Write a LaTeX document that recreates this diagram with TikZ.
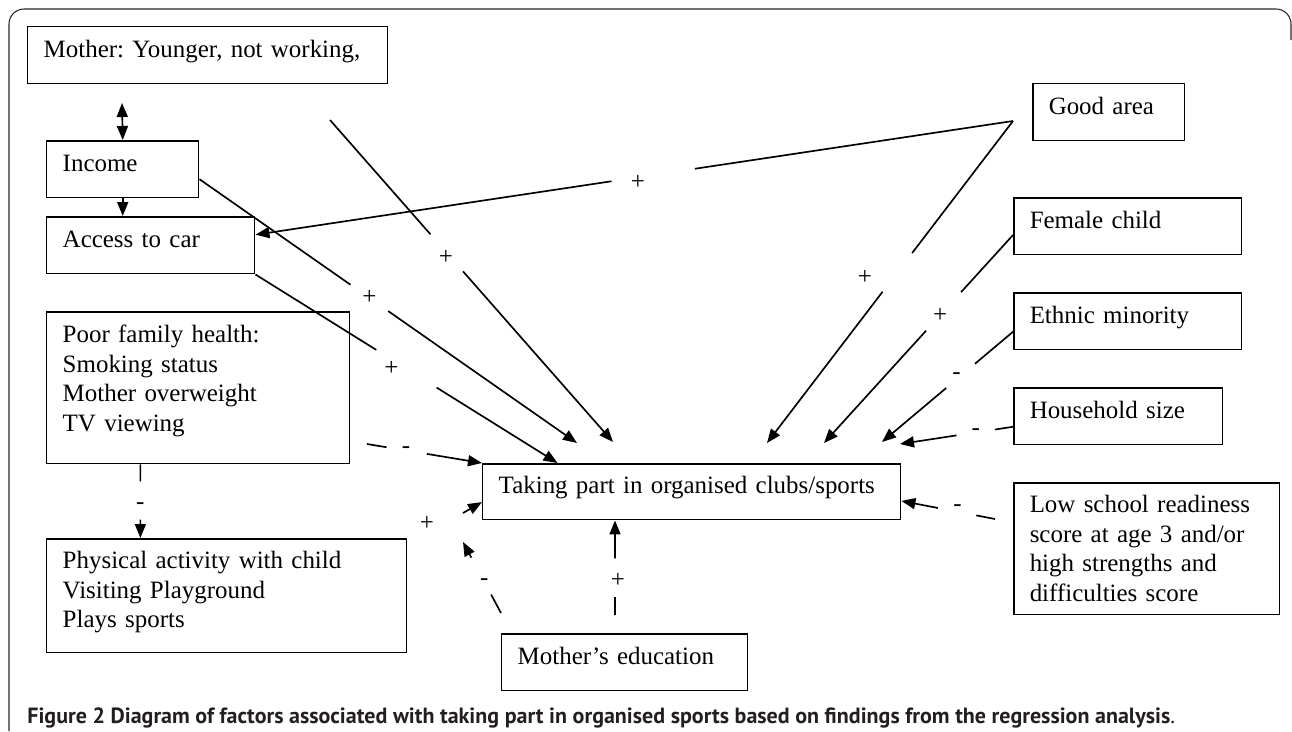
\documentclass[tikz,border=0pt]{standalone}
\usepackage{fontspec}
\usepackage{graphicx}
\setmainfont{Liberation Serif}
\newfontfamily\capfont{PT Sans}
\usetikzlibrary{calc,positioning,arrows.meta}
\definecolor{capgray}{HTML}{231F20}
\frenchspacing
\tikzstyle{box}   = [draw, rectangle, anchor=north west, line width=0.85pt, inner xsep=0.32cm, inner ysep=0pt, align=left, text height=0.62cm, text depth=0.52cm, font=\fontsize{14.2}{16.8}\selectfont]
\tikzstyle{link}  = [line width=0.95pt]
\tikzstyle{arrow} = [line width=0.95pt, -{Triangle[length=0.28cm,width=0.22cm]}]
\tikzstyle{sign}  = [inner sep=0pt, font=\fontsize{14.2}{16.8}\selectfont]

\begin{document}
\begin{tikzpicture}[x=0.02cm,y=-0.02cm]
    \useasboundingbox (0,0) rectangle (1292,731);
    \draw[line width=0.6pt, black!85, rounded corners=0.3cm] (9,731) -- (9,9) -- (1291,9) -- (1291,40);

    % factors on the left
    \node[box, text width=6.56cm] (mother) at (27,26) {Mother: Younger, not working,};
    \node[box, text width=2.40cm] (income) at (46,140) {Income};
    \node[box, text width=3.52cm] (car) at (46,216) {Access to car};
    \node[box, text width=5.42cm, text depth=2.42cm] (health) at (46,311) {Poor family health:\\Smoking status\\Mother overweight\\TV viewing};
    \node[box, text width=6.56cm, text height=0.60cm, text depth=1.68cm] (activity) at (46,538) {Physical activity with child\\Visiting Playground\\Plays sports};

    % outcome and mother's education
    \node[box, text width=7.72cm, text height=0.60cm] (taking) at (482,463) {Taking part in organised clubs/sports};
    \node[box, text width=4.28cm] (educ) at (501,633) {Mother's education};

    % factors on the right
    \node[box, text width=2.40cm] (good) at (1032,83) {Good area};
    \node[box, text width=3.92cm] (female) at (1013,197) {Female child};
    \node[box, text width=3.92cm] (ethnic) at (1013,292) {Ethnic minority};
    \node[box, text width=3.54cm] (house) at (1013,387) {Household size};
    \node[box, text width=4.68cm, text height=0.60cm, text depth=2.04cm] (school) at (1013,482) {Low school readiness\\score at age 3 and/or\\high strengths and\\difficulties score};

    \node[anchor=base west, inner sep=0pt, text=capgray] (caption) at (27,723) {\resizebox{22.96cm}{!}{\capfont\bfseries Figure 2 Diagram of factors associated with taking part in organised sports based on findings from the regression analysis\mdseries.}};

    % free ends
    \coordinate (mi) at (122,103);
    \coordinate (ml) at (330,120);
    \coordinate (ga) at (1013,121);
    \coordinate (hl) at (367,444);
    \coordinate (sl) at (995,519);
    \coordinate (el) at (615,615);
    \coordinate (ed) at (501,613);
    \coordinate (eu) at (463,542);
    \coordinate (pa) at (463,513);
    \coordinate (tm) at (613,442);
    \coordinate (ti) at (577,443);
    \coordinate (tg) at (767,443);
    \coordinate (tf) at (824,443);
    \coordinate (te) at (882,442);
    \coordinate (th) at (900,444);
    \coordinate (carE) at ($(car.north east)!.32!(car.south east)$);
    \coordinate (incE) at ($(income.north east)!.67!(income.south east)$);
    \coordinate (tc) at ($(taking.north west)!.18!(taking.north east)$);
    \coordinate (hp) at ($(health.south west)!.31!(health.south east)$);

    % arrows
    \draw[link, {Triangle[length=0.28cm,width=0.22cm]}-{Triangle[length=0.28cm,width=0.22cm]}] (mi) -- (income.north);
    \draw[arrow] (income.south) -- (income.south |- car.north);

    \draw[arrow] (ga) -- ($(ga)!.42!(carE)$) ($(ga)!.53!(carE)$) -- (carE);
    \node[sign, yshift=-0.1cm] (s1) at ($(ga)!.495!(carE)$) {+};
    \draw[arrow] (ga) -- ($(ga)!.41!(tg)$) ($(ga)!.53!(tg)$) -- (tg);
    \node[sign, xshift=-0.5cm, yshift=0.1cm] (s2) at ($(ga)!.5!(tg)$) {+};
    \draw[arrow] (ml) -- ($(ml)!.355!(tm)$) ($(ml)!.47!(tm)$) -- (tm);
    \node[sign, yshift=-0.1cm] (s3) at ($(ml)!.41!(tm)$) {+};
    \draw[arrow] (incE) -- ($(incE)!.40!(ti)$) ($(incE)!.50!(ti)$) -- (ti);
    \node[sign] (s4) at ($(incE)!.45!(ti)$) {+};
    \draw[arrow] (car.south east) -- ($(car.south east)!.40!(tc)$) ($(car.south east)!.60!(tc)$) -- (tc);
    \node[sign, xshift=-0.3cm] (s5) at ($(car.south east)!.5!(tc)$) {+};
    \draw[arrow] (hl) -- ($(hl)!.17!(taking.north west)$) ($(hl)!.52!(taking.north west)$) -- (taking.north west);
    \node[sign] (s6) at ($(hl)!.34!(taking.north west)$) {-};
    \draw[arrow] (hp) -- ($(hp)!.23!(hp |- activity.north)$) ($(hp)!.75!(hp |- activity.north)$) -- (hp |- activity.north);
    \node[sign] (s7) at ($(hp)!.57!(hp |- activity.north)$) {-};

    \draw[arrow] ($(female.north west)!.65!(female.south west)$) -- ($(female.north west)!.65!(female.south west)!.275!(tf)$) ($(female.north west)!.65!(female.south west)!.46!(tf)$) -- (tf);
    \node[sign] (s8) at ($(female.north west)!.65!(female.south west)!.385!(tf)$) {+};
    \draw[arrow] ($(ethnic.north west)!.68!(ethnic.south west)$) -- ($(ethnic.north west)!.68!(ethnic.south west)!.29!(te)$) ($(ethnic.north west)!.68!(ethnic.south west)!.51!(te)$) -- (te);
    \node[sign, xshift=-0.08cm] (s9) at ($(ethnic.north west)!.68!(ethnic.south west)!.40!(te)$) {-};
    \draw[arrow] ($(house.north west)!.68!(house.south west)$) -- ($(house.north west)!.68!(house.south west)!.16!(th)$) ($(house.north west)!.68!(house.south west)!.50!(th)$) -- (th);
    \node[sign] (s10) at ($(house.north west)!.68!(house.south west)!.33!(th)$) {-};
    \draw[arrow] (sl) -- ($(sl)!.2!($(taking.north east)!.66!(taking.south east)$)$) ($(sl)!.61!($(taking.north east)!.66!(taking.south east)$)$) -- ($(taking.north east)!.66!(taking.south east)$);
    \node[sign, yshift=0.08cm] (s11) at ($(sl)!.40!($(taking.north east)!.66!(taking.south east)$)$) {-};

    \draw[arrow] (el) -- ($(el)!.19!(el |- taking.south)$) ($(el)!.60!(el |- taking.south)$) -- (el |- taking.south);
    \node[sign, xshift=0.06cm] (s12) at ($(el)!.365!(el |- taking.south)$) {+};
    \draw[arrow] (ed) -- ($(ed)!.26!(eu)$) ($(ed)!.78!(eu)$) -- (eu);
    \node[sign] (s13) at ($(ed)!.44!(eu)$) {-};
    \draw[arrow] (pa) -- ($(taking.north west)!.68!(taking.south west)$);
    \node[sign] (s14) at (427,523) {+};
\end{tikzpicture}
\end{document}
